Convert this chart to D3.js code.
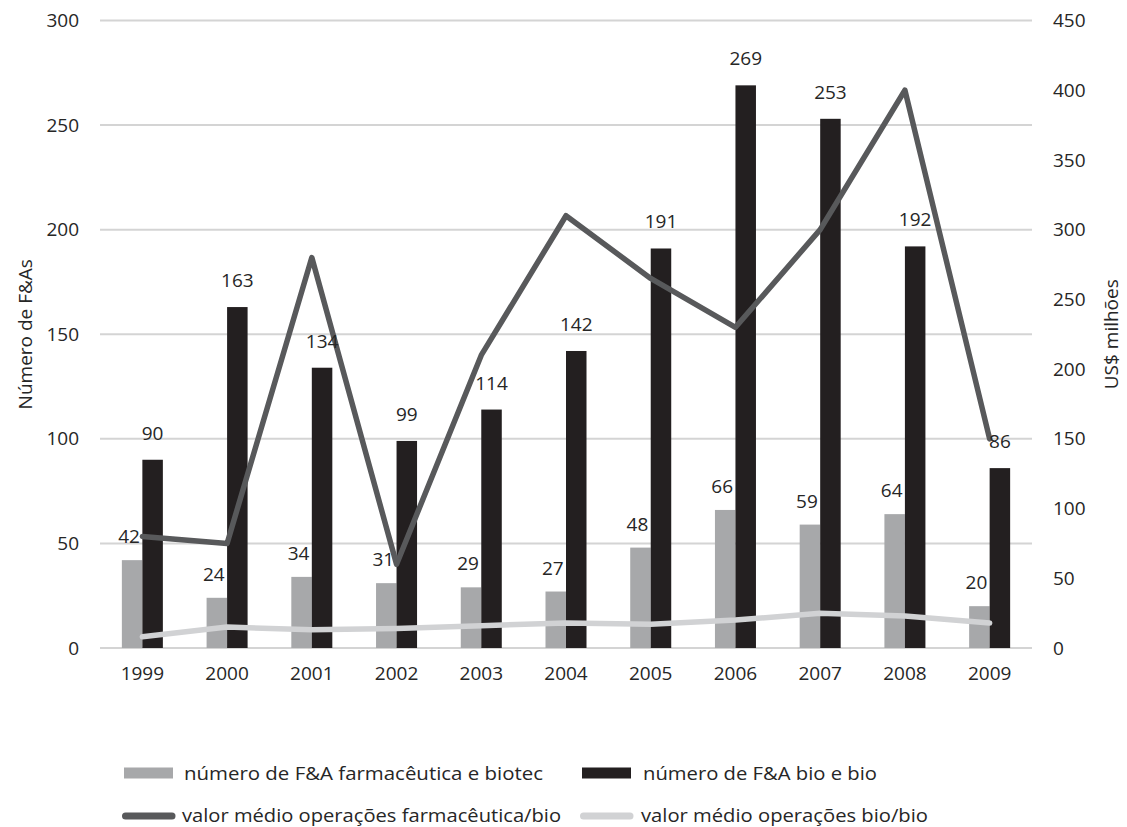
<!DOCTYPE html>
<html>
<head>
<meta charset="utf-8">
<script src="https://cdn.jsdelivr.net/npm/d3@7"></script>
<style>
  body { margin: 0; background: #fff; }
  text { font-family: "Open Sans", sans-serif; fill: #262626; }
</style>
</head>
<body>
<div id="wrapper"></div>
<script>
const years = ["1999", "2000", "2001", "2002", "2003", "2004", "2005", "2006", "2007", "2008", "2009"]
const farmaBiotec = [42, 24, 34, 31, 29, 27, 48, 66, 59, 64, 20]
const bioBio = [90, 163, 134, 99, 114, 142, 191, 269, 253, 192, 86]
const valorFarma = [80, 75, 280, 60, 210, 310, 265, 230, 300, 400, 150]
const valorBio = [8, 15, 13, 14, 16, 18, 17, 20, 25, 23, 18]
const leftTicks = [0, 50, 100, 150, 200, 250, 300]
const rightTicks = [0, 50, 100, 150, 200, 250, 300, 350, 400, 450]

const legendItems = [
    { label: "número de F&A farmacêutica e biotec", kind: "bar", color: "#a7a8aa" },
    { label: "número de F&A bio e bio", kind: "bar", color: "#231f20" },
    { label: "valor médio operações farmacêutica/bio", kind: "line", color: "#58595b" },
    { label: "valor médio operações bio/bio", kind: "line", color: "#d1d2d4" },
]

let dimensions = {
    width: 1127,
    height: 827,
    margin: { top: 20.5, right: 95, bottom: 179, left: 100 },
}
dimensions.boundedWidth = dimensions.width - dimensions.margin.left - dimensions.margin.right
dimensions.boundedHeight = dimensions.height - dimensions.margin.top - dimensions.margin.bottom

const svg = d3.select("#wrapper")
    .append("svg")
    .attr("width", dimensions.width)
    .attr("height", dimensions.height)

const bounds = svg.append("g")
    .attr("transform", `translate(${dimensions.margin.left}, ${dimensions.margin.top})`)

const xScale = d3.scaleBand()
    .domain(years)
    .range([0, dimensions.boundedWidth])

const barWidth = xScale.bandwidth() * 0.242
const center = d => xScale(d) + xScale.bandwidth() / 2

const yLeft = d3.scaleLinear().domain([0, 300]).range([dimensions.boundedHeight, 0])
const yRight = d3.scaleLinear().domain([0, 450]).range([dimensions.boundedHeight, 0])

// gridlines
bounds.append("g")
    .selectAll("line")
    .data(leftTicks)
    .join("line")
    .attr("x1", 0)
    .attr("x2", dimensions.boundedWidth)
    .attr("y1", d => yLeft(d))
    .attr("y2", d => yLeft(d))
    .attr("stroke", "#d4d4d4")
    .attr("stroke-width", 2)

// left axis
const leftAxis = bounds.append("g")
    .call(d3.axisLeft(yLeft).tickValues(leftTicks).tickSize(0).tickPadding(21))
leftAxis.select(".domain").remove()
leftAxis.selectAll("text").style("font-size", "19px").attr("fill", "#262626")

// right axis
const rightAxis = bounds.append("g")
    .attr("transform", `translate(${dimensions.boundedWidth}, 0)`)
    .call(d3.axisRight(yRight).tickValues(rightTicks).tickSize(0).tickPadding(21))
rightAxis.select(".domain").remove()
rightAxis.selectAll("text").style("font-size", "19px").attr("fill", "#262626")

// x axis
const xAxis = bounds.append("g")
    .attr("transform", `translate(0, ${dimensions.boundedHeight})`)
    .call(d3.axisBottom(xScale).tickSize(0).tickPadding(19))
xAxis.select(".domain").remove()
xAxis.selectAll("text").style("font-size", "19px").attr("fill", "#262626")

// bars
bounds.append("g")
    .selectAll("rect")
    .data(farmaBiotec)
    .join("rect")
    .attr("x", (d, i) => center(years[i]) - barWidth)
    .attr("y", d => yLeft(d))
    .attr("width", barWidth)
    .attr("height", d => yLeft(0) - yLeft(d))
    .attr("fill", legendItems[0].color)

bounds.append("g")
    .selectAll("rect")
    .data(bioBio)
    .join("rect")
    .attr("x", (d, i) => center(years[i]))
    .attr("y", d => yLeft(d))
    .attr("width", barWidth)
    .attr("height", d => yLeft(0) - yLeft(d))
    .attr("fill", legendItems[1].color)

// lines
const lineGen = d3.line()
    .x((d, i) => center(years[i]))
    .y(d => yRight(d))

bounds.append("path")
    .datum(valorBio)
    .attr("d", lineGen)
    .attr("fill", "none")
    .attr("stroke", legendItems[3].color)
    .attr("stroke-width", 5.5)
    .attr("stroke-linecap", "round")
    .attr("stroke-linejoin", "round")

bounds.append("path")
    .datum(valorFarma)
    .attr("d", lineGen)
    .attr("fill", "none")
    .attr("stroke", legendItems[2].color)
    .attr("stroke-width", 5.5)
    .attr("stroke-linecap", "round")
    .attr("stroke-linejoin", "round")

// data labels
const labels = bounds.append("g").style("font-size", "19px")
labels.selectAll(".lbl-a")
    .data(farmaBiotec)
    .join("text")
    .attr("class", "lbl-a")
    .attr("x", (d, i) => center(years[i]) - barWidth / 2 - 3)
    .attr("y", d => yLeft(d) - 17)
    .attr("text-anchor", "middle")
    .attr("fill", "#404040")
    .text(d => d)

labels.selectAll(".lbl-b")
    .data(bioBio)
    .join("text")
    .attr("class", "lbl-b")
    .attr("x", (d, i) => center(years[i]) + barWidth / 2)
    .attr("y", d => yLeft(d) - 20)
    .attr("text-anchor", "middle")
    .attr("fill", "#404040")
    .text(d => d)

// axis titles
svg.append("text")
    .attr("transform", `translate(32, ${dimensions.margin.top + dimensions.boundedHeight / 2}) rotate(-90)`)
    .attr("text-anchor", "middle")
    .style("font-size", "19px")
    .text("Número de F&As")

svg.append("text")
    .attr("transform", `translate(1118, ${dimensions.margin.top + dimensions.boundedHeight / 2}) rotate(-90)`)
    .attr("text-anchor", "middle")
    .style("font-size", "19px")
    .text("US$ milhões")

// legend
const legendPos = [
    { x: 124, y: 773 },
    { x: 582, y: 773 },
    { x: 122, y: 815 },
    { x: 580, y: 815 },
]
const legendWidths = [359, 234, 379, 287]

const legend = svg.append("g")
legendItems.forEach((item, i) => {
    const g = legend.append("g").attr("transform", `translate(${legendPos[i].x}, ${legendPos[i].y})`)
    if (item.kind === "bar") {
        g.append("rect")
            .attr("x", 0).attr("y", -5.5)
            .attr("width", 49).attr("height", 11)
            .attr("fill", item.color)
    } else {
        g.append("line")
            .attr("x1", 3.5).attr("x2", 50)
            .attr("y1", 1).attr("y2", 1)
            .attr("stroke", item.color)
            .attr("stroke-width", 7)
            .attr("stroke-linecap", "round")
    }
    g.append("text")
        .attr("x", i % 2 === 0 ? 60 : 61)
        .attr("dy", "0.35em")
        .style("font-size", "19px")
        .attr("fill", "#231f20")
        .attr("textLength", legendWidths[i])
        .attr("lengthAdjust", "spacingAndGlyphs")
        .text(item.label)
})
</script>
</body>
</html>
